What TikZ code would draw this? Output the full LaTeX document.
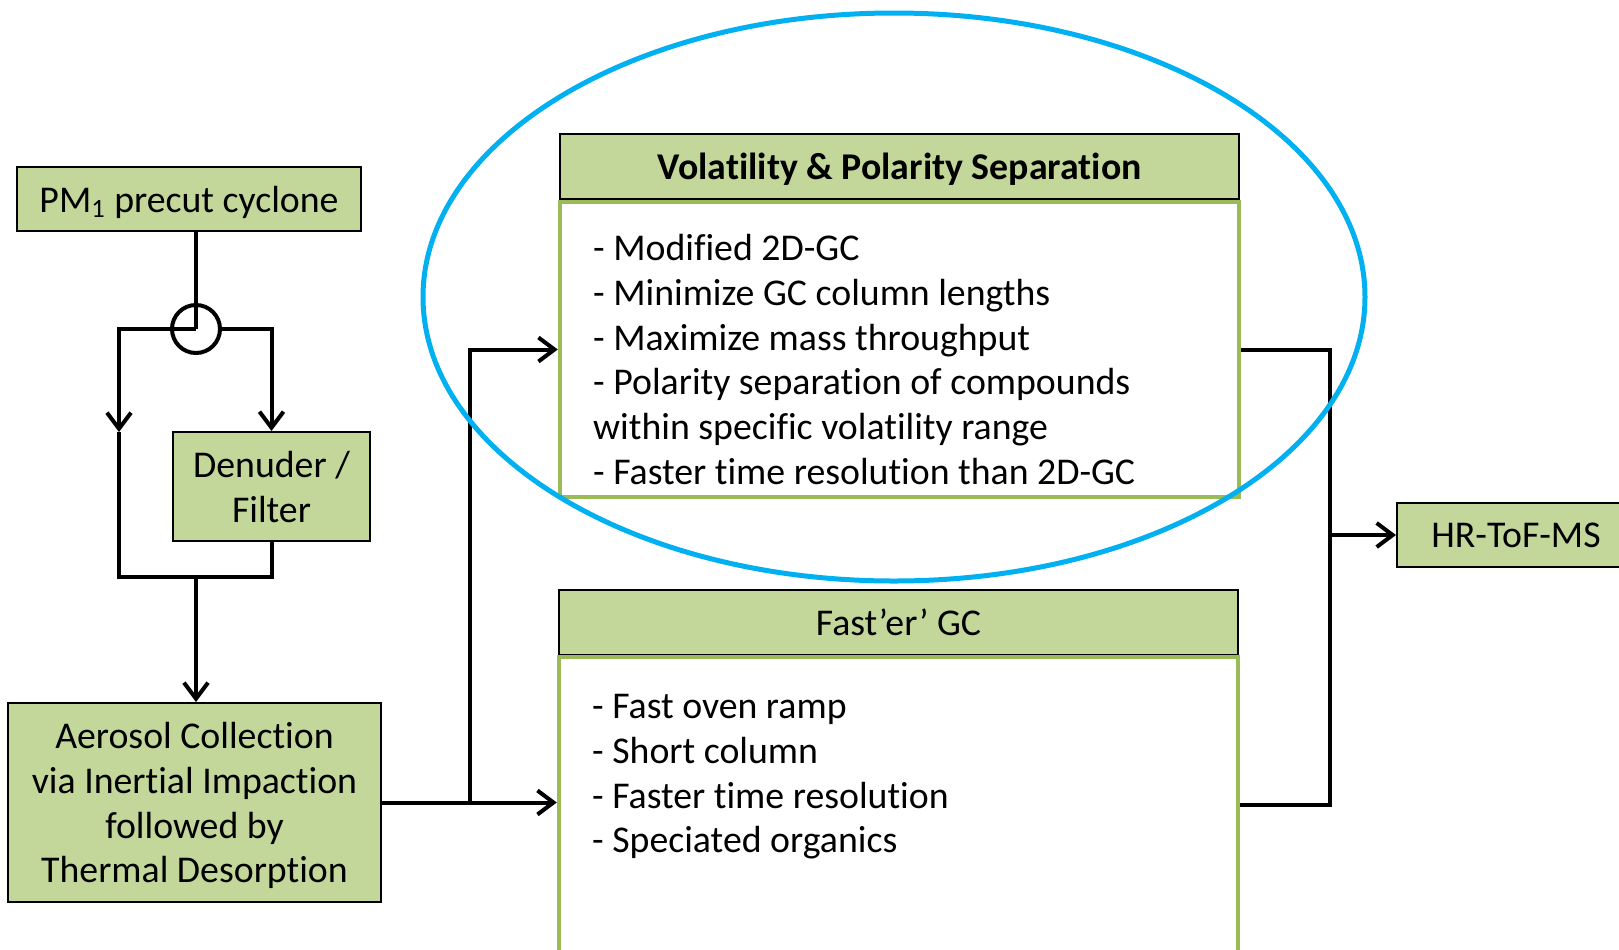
\documentclass[tikz,border=0pt]{standalone}
\usepackage{fontspec}
\setmainfont[Ligatures={TeX,NoCommon}]{Carlito}
\usetikzlibrary{arrows.meta}
\definecolor{boxgreen}{HTML}{C4D79B}
\definecolor{rimgreen}{HTML}{9BBB59}
\definecolor{ringblue}{HTML}{00B0F0}

\begin{document}
\begin{tikzpicture}[x=0.5pt,y=-0.5pt,
  every node/.style={font=\fontsize{18.9}{22.4}\selectfont},
  unitbox/.style={draw=black,line width=1pt,fill=boxgreen,align=center,inner sep=0pt,text depth=0pt},
  titlebox/.style={unitbox,minimum width=339.5pt,minimum height=32.5pt},
  listbox/.style={draw=rimgreen,line width=2.2pt,fill=white,minimum width=339.5pt,minimum height=147.5pt,inner sep=0pt},
  listtext/.style={anchor=north west,align=left,inner sep=0pt},
  wire/.style={line width=2pt,>={Straight Barb[length=8pt,width=12pt]}},
  ring/.style={draw=ringblue,line width=2.5pt}]
  \useasboundingbox (0,0) rectangle (1619,949);
  \clip (0,0) rectangle (1619,949);
  % Sampling side
  \node[unitbox,minimum width=171.75pt,minimum height=32pt] (pm)   at (189,199)     {PM\textsubscript{1} precut cyclone};
  \node[draw,circle,line width=2pt,minimum size=24pt,inner sep=0pt] (valve) at (196,329) {};
  \node[unitbox,minimum width=98.5pt,minimum height=54.5pt]  (den)  at (271.5,486.5) {Denuder /\\Filter};
  \node[unitbox,minimum width=186.5pt,minimum height=99.5pt] (aero) at (194.5,802.5) {Aerosol Collection\\via Inertial Impaction\\followed by\\Thermal Desorption};
  \coordinate (bypass) at (119,432);
  \coordinate (join)   at (196,577);
  \draw[wire] (pm.south -| valve) -- (valve.center);
  \draw[wire,->] (valve.center) -| (bypass);
  \draw[wire,->] (valve.east) -| (den.north);
  \draw[wire] (bypass) |- (join) -| (den.south);
  \draw[wire,->] (join) -- (join |- aero.north);
  % Separation branches
  \node[titlebox,font=\fontsize{18.9}{22.4}\selectfont\bfseries] (vpshead) at (899.5,166.5) {Volatility \& Polarity Separation};
  \node[listbox] (vpsbody) at (899.5,349.5) {};
  \node[listtext] (vpslist) at ([xshift=17.5pt,yshift=-17pt]vpsbody.north west)
    {- Modified 2D-GC\\- Minimize GC column lengths\\- Maximize mass throughput\\- Polarity separation of compounds\\within specific volatility range\\- Faster time resolution than 2D-GC};
  \node[titlebox] (fgchead) at (898.5,622) {Fast’er’ GC};
  \node[listbox] (fgcbody) at (898.5,804.5) {};
  \node[listtext] (fgclist) at ([xshift=17.5pt,yshift=-19.5pt]fgcbody.north west)
    {- Fast oven ramp\\- Short column\\- Faster time resolution\\- Speciated organics};
  \coordinate (split) at (470,802);
  \draw[wire,->] (aero.east) -- (aero.east -| fgcbody.west);
  \draw[wire,->] (split |- aero.east) |- (vpsbody.west);
  % Detector side
  \node[unitbox,minimum width=119pt,minimum height=32pt] (ms) at (1516,535) {HR-ToF-MS};
  \coordinate (merge) at (1330,535);
  \draw[wire] (vpsbody.east) -| (merge) |- (fgcbody.east);
  \draw[wire,->] (merge) -- (ms.west);
  % highlight round the upper branch
  \draw[ring] (894,297) ellipse [x radius=235.5pt,y radius=142pt];
\end{tikzpicture}
\end{document}
